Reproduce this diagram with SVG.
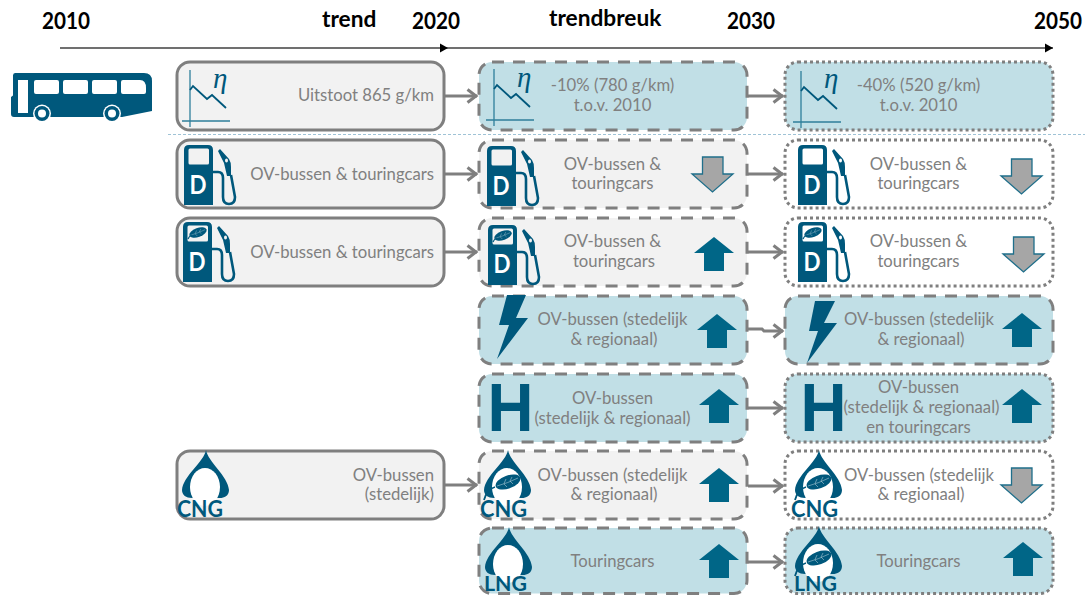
<svg xmlns="http://www.w3.org/2000/svg" xmlns:xlink="http://www.w3.org/1999/xlink" width="1088" height="596" viewBox="0 0 1088 596">
<style>
text{font-family:"Lato","Open Sans",sans-serif}
.h{font-size:22.700px;font-weight:700;fill:#000}
.t{font-size:16.700px;fill:#808080}
.m{text-anchor:middle}
.e{text-anchor:end}
.box{stroke:#7f7f7f;stroke-width:3}
.gray{fill:#f2f2f2}
.blue{fill:#c1dfe6}
.none{fill:#fff}
.solid{stroke-dasharray:none}
.dash{stroke-dasharray:12 9}
.dot{stroke-dasharray:3 3}
.ink{fill:#00587c}
.up{fill:#006687}
.down{fill:#a6a6a6;stroke:#1f6f8b;stroke-width:1.3}
.d{font-size:26px;font-weight:700;fill:#fff}
.g{font-size:22px;font-weight:700;fill:#00587c}
.l{font-size:20px;font-weight:700;fill:#00587c}
.eta{font-family:"Liberation Serif",serif;font-style:italic;font-size:29px;fill:#00587c}
.hh{font-family:"Liberation Sans",sans-serif;font-size:68px;font-weight:700;fill:#00587c}
.con{fill:none;stroke:#7f7f7f;stroke-width:3;marker-end:url(#chev)}
</style>
<defs>
<marker id="chev" markerUnits="userSpaceOnUse" markerWidth="16" markerHeight="18" refX="12" refY="9" orient="auto"><path d="M2.500 2.500L11 9L2.500 15.500" fill="none" stroke="#7f7f7f" stroke-width="3"/></marker>
<marker id="tri" markerUnits="userSpaceOnUse" markerWidth="8" markerHeight="10" refX="8" refY="5" orient="auto"><path d="M0 0.500L8 5L0 9.500Z" fill="#000"/></marker>
<g id="chart"><path d="M0 -51V6M-8 0H40" fill="none" stroke="#2f7f9b" stroke-width="1.300"/><path d="M0 -31L3 -35L17 -22L22 -26L36 -13" fill="none" stroke="#00587c" stroke-width="1.800"/></g>
<g id="hose"><path d="M29 27H34Q39 27 39 33V52Q39 59 45 59Q51 59 51 52L47 30" fill="none" stroke="#00587c" stroke-width="2.600"/><path fill-rule="evenodd" class="ink" d="M34 6L36 4L45 14Q47 17 47 22L47 31L43 31L40 18ZM41 15.500a1.500 2 0 1 0 3 0a1.500 2 0 1 0 -3 0Z"/></g>
<g id="pump"><path fill-rule="evenodd" class="ink" d="M0 60V5Q0 0 5 0H24Q29 0 29 5V60ZM6 3.500Q4.500 3.500 4.500 5V18Q4.500 19.500 6 19.500H23.500Q25 19.500 25 18V5Q25 3.500 23.500 3.500Z"/><use href="#hose"/></g>
<g id="leaf"><ellipse cx="0" cy="0" rx="13" ry="6.500" class="ink" transform="rotate(-20)"/><path d="M-11 4Q0 1 10 -4M-4 1.500L-2 -3M2 -1L4 -5M-4 2L-1 5M2 -1L5 2" stroke="#c9dde5" stroke-width="0.500" fill="none"/></g>
<g id="pumpLeaf"><use href="#pump"/><use href="#leaf" transform="translate(15 10.500) scale(0.700)"/><path d="M5 17Q6 14 9 13" fill="none" stroke="#00587c" stroke-width="1.200"/></g>
<g id="drop"><path class="ink" d="M0 0C2 12 22 26 23 40C23 46 18 48 14 48H-14C-20 48 -24 45 -24 40C-23 26 -2 12 0 0Z"/><ellipse cx="-1" cy="37" rx="15" ry="19" fill="#fff"/></g>
<g id="dropLeaf"><use href="#drop"/><use href="#leaf" transform="translate(0 32)"/><path d="M-13 37Q-21 39 -24 50" fill="none" stroke="#00587c" stroke-width="1.800"/></g>
<polygon id="upA" class="up" points="20,0 40,16 30,16 30,34 10,34 10,16 0,16"/>
<polygon id="downA" class="down" points="10.500,0 31,0 31,17 41,17 20.500,35 0,17 10.500,17"/>
<g id="busShape"><path class="ink" fill-rule="evenodd" d="M13 75.500Q13 73 15 73H144Q152 73 152 81V111L122 117H14Q11 117 11 114V97L13 95.500ZM18 80V113H28V80ZM36 80Q34 80 34 82V92Q34 94 36 94H57Q59 94 59 92V82Q59 80 57 80ZM65 80Q63 80 63 82V92Q63 94 65 94H86Q88 94 88 92V82Q88 80 86 80ZM94 80Q92 80 92 82V92Q92 94 94 94H115Q117 94 117 92V82Q117 80 115 80ZM123 80Q121 80 121 82V92Q121 94 123 94H144Q146 94 146 92V88Q146 80 140 80Z"/><circle cx="42" cy="113.500" r="9" fill="#fff"/><circle cx="42" cy="113.500" r="7.500" class="ink"/><circle cx="42" cy="113.500" r="4" fill="#fff"/><circle cx="112" cy="113.500" r="9" fill="#fff"/><circle cx="112" cy="113.500" r="7.500" class="ink"/><circle cx="112" cy="113.500" r="4" fill="#fff"/></g>
</defs>
<rect width="1088" height="596" fill="#fff"/>
<g id="timeline">
<text class="h" x="42" y="29" textLength="48" lengthAdjust="spacingAndGlyphs">2010</text><text class="h" x="322" y="27">trend</text><text class="h" x="412" y="29" textLength="48" lengthAdjust="spacingAndGlyphs">2020</text><text class="h" x="549" y="26">trendbreuk</text><text class="h" x="727" y="29" textLength="48" lengthAdjust="spacingAndGlyphs">2030</text><text class="h" x="1034" y="29" textLength="48" lengthAdjust="spacingAndGlyphs">2050</text>
<path d="M60 48H448" fill="none" stroke="#404040" stroke-width="1.300" marker-end="url(#tri)"/>
<path d="M448 48H1053" fill="none" stroke="#404040" stroke-width="1.300" marker-end="url(#tri)"/>
</g>
<g id="bus"><use href="#busShape"/></g>
<path id="divider" d="M168 134.500H1085" fill="none" stroke="#9fc3d6" stroke-width="1" stroke-dasharray="3 2"/>
<g id="connectors">
<path class="con" d="M445 96H477"/><path class="con" d="M445 174H477"/><path class="con" d="M445 252H477"/><path class="con" d="M445 485H477"/>
<path class="con" d="M748 96H783"/><path class="con" d="M748 174H783"/><path class="con" d="M748 252H783"/><path class="con" d="M748 329H762L764 331H783"/><path class="con" d="M748 408H783"/><path class="con" d="M748 486H783"/><path class="con" d="M748 562H783"/>
</g>
<g id="a1"><rect class="box gray solid" x="177" y="62" width="267" height="68" rx="13"/><use href="#chart" x="190" y="121"/><text class="eta" x="213" y="88">η</text><text class="t e" x="434" y="101">Uitstoot 865 g/km</text></g>
<g id="a2"><rect class="box gray solid" x="177" y="140" width="267" height="68" rx="13"/><use href="#pump" x="184" y="145"/><text class="d" x="189.500" y="194" textLength="17" lengthAdjust="spacingAndGlyphs">D</text><text class="t e" x="434" y="180">OV-bussen &amp; touringcars</text></g>
<g id="a3"><rect class="box gray solid" x="177" y="218" width="267" height="68" rx="13"/><use href="#pumpLeaf" x="183" y="222"/><text class="d" x="188.500" y="271" textLength="17" lengthAdjust="spacingAndGlyphs">D</text><text class="t e" x="434" y="258">OV-bussen &amp; touringcars</text></g>
<g id="a6"><rect class="box gray solid" x="177" y="451" width="267" height="68" rx="13"/><use href="#drop" x="206" y="450"/><text class="g" x="177" y="517" textLength="46" lengthAdjust="spacingAndGlyphs">CNG</text><text class="t e" x="434" y="481">OV-bussen</text><text class="t e" x="434" y="500">(stedelijk)</text></g>
<g id="b1"><rect class="box blue dash" x="479" y="62" width="268" height="68" rx="13"/><use href="#chart" x="494" y="120"/><text class="eta" x="517" y="87">η</text><text class="t m" x="612.500" y="91">-10% (780 g/km)</text><text class="t m" x="612.500" y="111">t.o.v. 2010</text></g>
<g id="b2"><rect class="box gray dash" x="479" y="140" width="268" height="68" rx="13"/><use href="#pump" x="487" y="146"/><text class="d" x="492.500" y="195" textLength="17" lengthAdjust="spacingAndGlyphs">D</text><text class="t m" x="612.500" y="170">OV-bussen &amp;</text><text class="t m" x="612.500" y="189">touringcars</text><use href="#downA" x="692" y="157"/></g>
<g id="b3"><rect class="box gray dash" x="479" y="218" width="268" height="68" rx="13"/><use href="#pumpLeaf" x="488" y="225"/><text class="d" x="493.500" y="273" textLength="17" lengthAdjust="spacingAndGlyphs">D</text><text class="t m" x="612.500" y="247">OV-bussen &amp;</text><text class="t m" x="614" y="267">touringcars</text><use href="#upA" x="694" y="237"/></g>
<g id="b4"><rect class="box blue dash" x="479" y="296" width="268" height="68" rx="13"/><polygon class="ink" points="507,295 526,295 516,318 528,318 497,359 509,325 499,325"/><text class="t m" x="612.500" y="325">OV-bussen (stedelijk</text><text class="t m" x="614" y="345">&amp; regionaal)</text><use href="#upA" x="697" y="314"/></g>
<g id="b5"><rect class="box blue dash" x="479" y="374" width="268" height="68" rx="13"/><text class="hh" x="487.500" y="431" textLength="46" lengthAdjust="spacingAndGlyphs">H</text><text class="t m" x="612.500" y="404">OV-bussen</text><text class="t m" x="612.500" y="424">(stedelijk &amp; regionaal)</text><use href="#upA" x="699" y="389"/></g>
<g id="b6"><rect class="box gray dash" x="479" y="451" width="268" height="68" rx="13"/><use href="#dropLeaf" x="508" y="450"/><text class="g" x="480" y="517" textLength="47" lengthAdjust="spacingAndGlyphs">CNG</text><text class="t m" x="612.500" y="481">OV-bussen (stedelijk</text><text class="t m" x="614" y="500">&amp; regionaal)</text><use href="#upA" x="699" y="468"/></g>
<g id="b7"><rect class="box blue dash" x="479" y="528" width="268" height="65.500" rx="13"/><use href="#drop" x="509" y="527"/><text class="l" x="484" y="591" textLength="43" lengthAdjust="spacingAndGlyphs">LNG</text><text class="t m" x="612.500" y="567">Touringcars</text><use href="#upA" x="699" y="544"/></g>
<g id="c1"><rect class="box blue dot" x="785" y="62" width="268" height="68" rx="13"/><use href="#chart" x="801" y="122"/><text class="eta" x="824" y="88">η</text><text class="t m" x="918.500" y="91">-40% (520 g/km)</text><text class="t m" x="918.500" y="111">t.o.v. 2010</text></g>
<g id="c2"><rect class="box none dot" x="785" y="140" width="268" height="68" rx="13"/><use href="#pump" x="798" y="145"/><text class="d" x="803.500" y="194" textLength="17" lengthAdjust="spacingAndGlyphs">D</text><text class="t m" x="918.500" y="170">OV-bussen &amp;</text><text class="t m" x="918.500" y="189">touringcars</text><use href="#downA" x="1001" y="159"/></g>
<g id="c3"><rect class="box none dot" x="785" y="218" width="268" height="68" rx="13"/><use href="#pumpLeaf" x="798" y="222"/><text class="d" x="803.500" y="271" textLength="17" lengthAdjust="spacingAndGlyphs">D</text><text class="t m" x="918.500" y="247">OV-bussen &amp;</text><text class="t m" x="918.500" y="267">touringcars</text><use href="#downA" x="1003" y="237"/></g>
<g id="c4"><rect class="box blue dash" x="785" y="296" width="268" height="68" rx="13"/><polygon class="ink" points="815,301 835,301 824,323 837,323 807,363 818,331 809,331"/><text class="t m" x="919" y="325">OV-bussen (stedelijk</text><text class="t m" x="921" y="345">&amp; regionaal)</text><use href="#upA" x="1002" y="313"/></g>
<g id="c5"><rect class="box blue dot" x="785" y="374" width="268" height="68" rx="13"/><text class="hh" x="800.500" y="431" textLength="46" lengthAdjust="spacingAndGlyphs">H</text><text class="t m" x="918.500" y="393">OV-bussen</text><text class="t m" x="921.500" y="413">(stedelijk &amp; regionaal)</text><text class="t m" x="918.500" y="433">en touringcars</text><use href="#upA" x="1002" y="389"/></g>
<g id="c6"><rect class="box none dot" x="785" y="451" width="268" height="68" rx="13"/><use href="#dropLeaf" x="819" y="450"/><text class="g" x="791" y="517" textLength="47" lengthAdjust="spacingAndGlyphs">CNG</text><text class="t m" x="919" y="481">OV-bussen (stedelijk</text><text class="t m" x="921" y="500">&amp; regionaal)</text><use href="#downA" x="1001" y="468"/></g>
<g id="c7"><rect class="box blue dot" x="785" y="528" width="268" height="65.500" rx="13"/><use href="#dropLeaf" x="819" y="526"/><text class="l" x="794" y="591" textLength="43" lengthAdjust="spacingAndGlyphs">LNG</text><text class="t m" x="918.500" y="567">Touringcars</text><use href="#upA" x="1003" y="542"/></g>
</svg>
